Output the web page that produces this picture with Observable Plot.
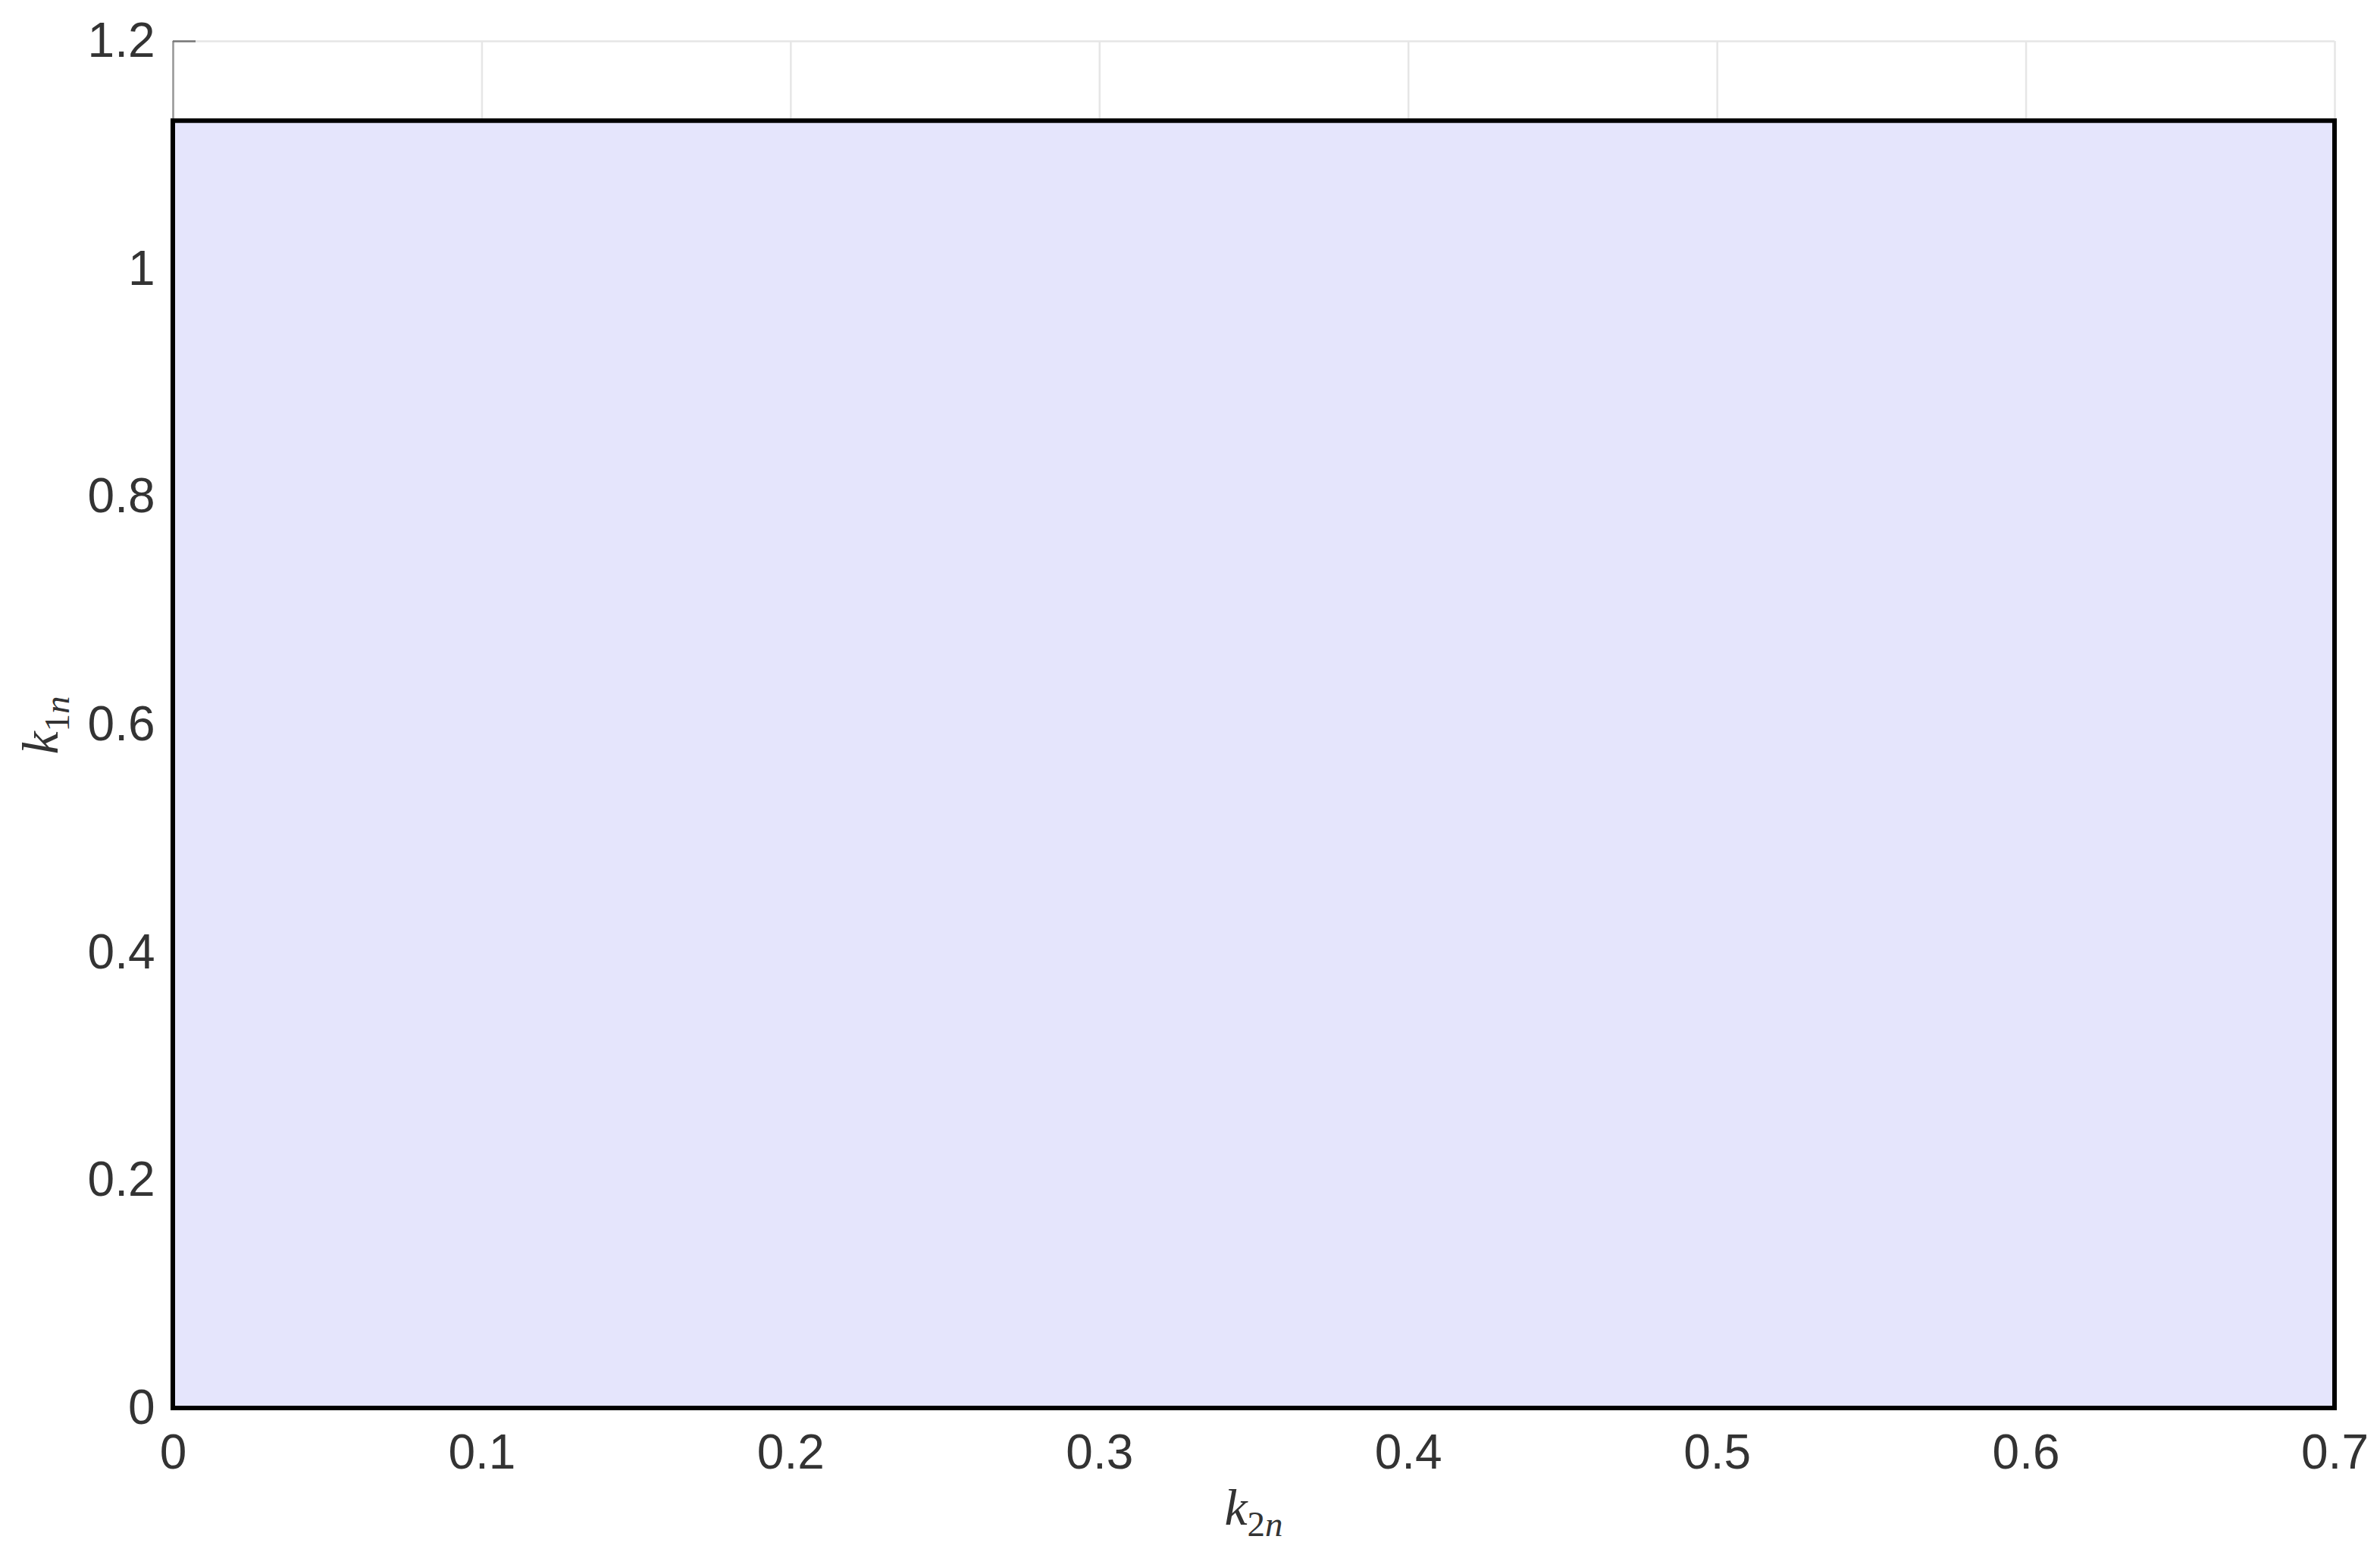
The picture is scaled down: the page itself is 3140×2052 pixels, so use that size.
<!DOCTYPE html>
<html>
<head>
<meta charset="utf-8">
<script src="https://cdn.jsdelivr.net/npm/d3@7"></script>
<script src="https://cdn.jsdelivr.net/npm/@observablehq/plot@0.6"></script>
<style>
  html, body { margin: 0; padding: 0; background: #fff; }
  #chart svg { display: block; }
</style>
</head>
<body>
<div id="chart"></div>
<script>
// Data
const xTicks = [0, 0.1, 0.2, 0.3, 0.4, 0.5, 0.6, 0.7];
const yTicks = [0, 0.2, 0.4, 0.6, 0.8, 1, 1.2];
const regionK2 = [0, 0.7];   // x extent of shaded region
const regionK1 = [0, 1.13];  // y extent of shaded region
const xLabel = {base: "k", sub: "2n"};
const yLabel = {base: "k", sub: "1n"};

const region = [{x1: regionK2[0], x2: regionK2[1], y1: regionK1[0], y2: regionK1[1]}];

const W = 3140, H = 2052;
const chart = Plot.plot({
  width: W,
  height: H,
  marginLeft: 228,
  marginRight: 60,
  marginTop: 54,
  marginBottom: 194,
  style: {fontFamily: "'Liberation Sans', Arial, sans-serif", background: "#fff"},
  x: {domain: [0, 0.7], label: null},
  y: {domain: [0, 1.2], label: null},
  marks: [
    Plot.gridX(xTicks, {stroke: "#e6e6e6", strokeOpacity: 1, strokeWidth: 2.5}),
    Plot.gridY(yTicks, {stroke: "#e6e6e6", strokeOpacity: 1, strokeWidth: 2.5}),
    Plot.ruleX([0], {stroke: "#999", strokeWidth: 2.5}),
    Plot.axisY(yTicks, {tickSize: -30, text: null, stroke: "#777", strokeWidth: 2.5}),
    Plot.rect(region, {x1: "x1", x2: "x2", y1: "y1", y2: "y2", fill: "#e5e5fc", stroke: "#000", strokeWidth: 6}),
    Plot.axisY(yTicks, {tickSize: 0, tickPadding: 24, fontSize: 64, fill: "#333", tickFormat: d => String(d)}),
    Plot.axisX(xTicks, {tickSize: 0, tickPadding: 34, fontSize: 64, fill: "#333", tickFormat: d => String(d)})
  ]
});
document.getElementById("chart").appendChild(chart);

// Axis titles with subscripts (real text)
const svg = d3.select(chart);
const serif = "'Liberation Serif', 'Times New Roman', serif";
function addLabel(g, lab) {
  const t = g.append("text")
    .attr("text-anchor", "middle")
    .attr("font-family", serif)
    .attr("font-style", "italic")
    .attr("font-size", 68)
    .attr("fill", "#333");
  t.append("tspan").text(lab.base);
  const s = t.append("tspan").attr("font-size", 47).attr("dy", 15);
  s.append("tspan").attr("font-style", "normal").text(lab.sub[0]);
  s.append("tspan").text(lab.sub.slice(1));
}
const gx = svg.append("g").attr("transform", `translate(1654,2012)`);
addLabel(gx, xLabel);
const gy = svg.append("g").attr("transform", `translate(76,957) rotate(-90)`);
addLabel(gy, yLabel);
</script>
</body>
</html>
